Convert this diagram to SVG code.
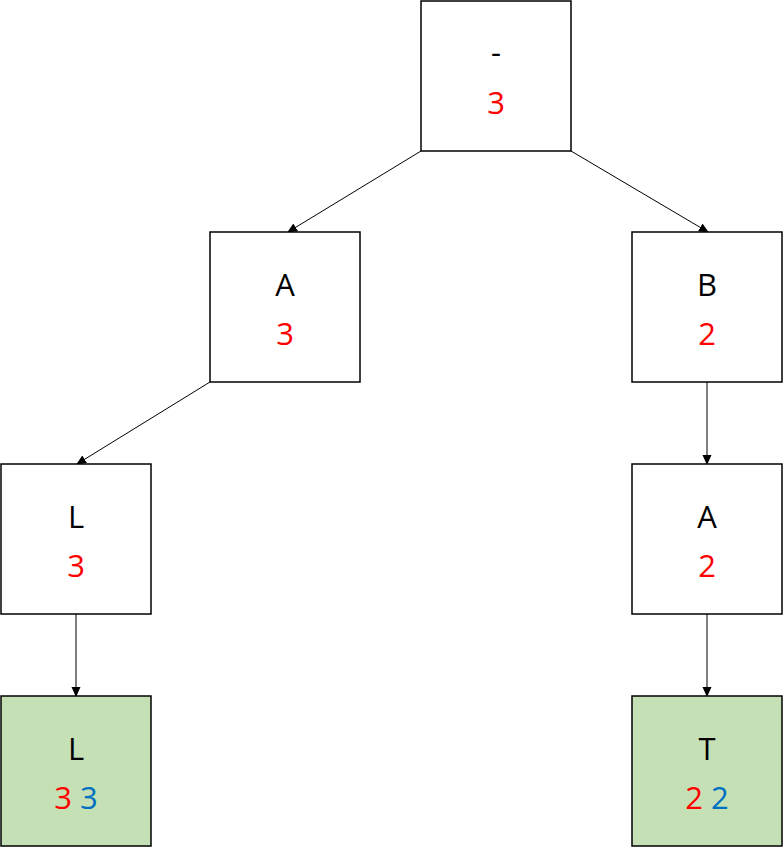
<svg xmlns="http://www.w3.org/2000/svg" width="783" height="847" viewBox="0 0 783 847">
<style>
.box{fill:#fff;stroke:#000;stroke-width:1.5}
.leaf{fill:#C5E0B4;stroke:#000;stroke-width:1.5}
.t{font-family:"Open Sans","Liberation Sans",sans-serif;font-size:31px;text-anchor:middle;fill:#000}
.r{fill:#FF0000}.b{fill:#0070C0}
.c{stroke:#000;stroke-width:1;fill:none;marker-end:url(#ah)}
</style>
<defs><marker id="ah" markerWidth="10" markerHeight="10" refX="9" refY="5" orient="auto" markerUnits="userSpaceOnUse"><path d="M0,0.5 L10,5 L0,9.5 Z" fill="#000"/></marker></defs>
<rect width="783" height="847" fill="#fff"/>
<g id="connectors">
<line class="c" x1="421" y1="151" x2="288" y2="232"/>
<line class="c" x1="571" y1="151" x2="708" y2="232"/>
<line class="c" x1="210" y1="382" x2="77" y2="464"/>
<line class="c" x1="707" y1="382" x2="707" y2="464"/>
<line class="c" x1="76" y1="614" x2="76" y2="696"/>
<line class="c" x1="707" y1="614" x2="707" y2="696"/>
</g>
<g id="root"><rect class="box" x="421" y="1" width="150" height="150"/><text class="t" x="496" y="63">-</text><text class="t r" x="496" y="114" font-size="29">3</text></g>
<g id="nA"><rect class="box" x="210" y="232" width="150" height="150"/><text class="t" x="285" y="296">A</text><text class="t r" x="285" y="345">3</text></g>
<g id="nB"><rect class="box" x="632" y="232" width="150" height="150"/><text class="t" x="707" y="296">B</text><text class="t r" x="707" y="345">2</text></g>
<g id="nL"><rect class="box" x="1" y="464" width="150" height="150"/><text class="t" x="76" y="528">L</text><text class="t r" x="76" y="577">3</text></g>
<g id="nA2"><rect class="box" x="632" y="464" width="150" height="150"/><text class="t" x="707" y="528">A</text><text class="t r" x="707" y="577">2</text></g>
<g id="leafL"><rect class="leaf" x="1" y="696" width="150" height="150"/><text class="t" x="76" y="760">L</text><text class="t" x="76" y="809"><tspan class="r">3</tspan> <tspan class="b">3</tspan></text></g>
<g id="leafT"><rect class="leaf" x="632" y="696" width="150" height="150"/><text class="t" x="707" y="760">T</text><text class="t" x="707" y="809"><tspan class="r">2</tspan> <tspan class="b">2</tspan></text></g>
</svg>
